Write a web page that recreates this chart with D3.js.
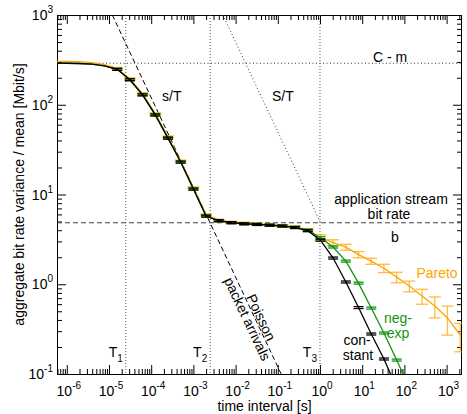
<!DOCTYPE html>
<html>
<head>
<meta charset="utf-8">
<script src="https://cdn.jsdelivr.net/npm/d3@7"></script>
<style>
body { margin: 0; background: #fff; }
svg text { font-family: "Liberation Sans", Arial, sans-serif; }
</style>
</head>
<body>
<div id="chart"></div>
<script>
// time interval T [s] of each measured point (doubling steps)
var intervals = [4.88e-7, 9.77e-7, 1.95e-6, 3.91e-6, 7.81e-6, 1.5625e-5, 3.125e-5, 6.25e-5, 1.25e-4, 2.5e-4, 5e-4, 1e-3, 2e-3,
  4e-3, 8e-3, 0.016, 0.032, 0.064, 0.128, 0.256, 0.512, 1.024, 2.048, 4.096, 8.192, 16.384, 32.768, 65.536,
  131.072, 262.144, 524.288, 1048.576, 2097.152];
var firstMarked = 5; // error bars are drawn from T = 1.56e-5 s on

// aggregate bit rate variance / mean [Mbit/s]
var constant = [291, 290, 288, 283, 271, 248, 190, 129, 77, 42.5, 23, 11.5, 5.75, 5.1, 4.85, 4.72, 4.64, 4.55, 4.45, 4.28,
  3.95, 3.1, 1.96, 1.06, 0.55, 0.279, 0.147, 0.07];
var negExp = [291, 290, 288, 283, 271, 248, 190, 129, 77, 42.5, 23, 11.5, 5.75, 5.1, 4.85, 4.72, 4.64, 4.55, 4.47, 4.32,
  4.02, 3.3, 2.6, 1.81, 1.03, 0.543, 0.286, 0.143, 0.07];
var pareto = [305, 304, 302, 295, 279, 254, 195, 133, 79.5, 43.8, 23.6, 11.9, 5.95, 5.2, 4.92, 4.8, 4.7, 4.6, 4.5, 4.35,
  4.05, 3.3, 2.91, 2.59, 2.14, 1.81, 1.51, 1.2, 0.955, 0.739, 0.572, 0.421, 0.272];
var paretoErr = [8, 8, 8, 8, 7, 6, 5, 3.3, 2, 1.1, 0.6, 0.3, 0.15, 0.13, 0.12, 0.12, 0.12, 0.12, 0.12, 0.12,
  0.12, 0.25, 0.22, 0.2, 0.17, 0.14, 0.16, 0.16, 0.13, 0.14, 0.15, 0.15, 0.095];
var relErr = 0.025; // constant and neg-exp bars are tiny

// reference quantities
var s = 0.012;       // packet size [Mbit]
var S = 5.0;         // [Mbit]
var cMinusM = 290;   // C - m
var b = 4.84;        // application stream bit rate
var tMarks = [{name: "1", t: 2.5e-5}, {name: "2", t: 2.5e-3}, {name: "3", t: 1.0}];

var width = 467, height = 414;
var pLeft = 57, pRight = 462, pTop = 15, pBottom = 374;

var x = d3.scaleLog().domain([5.86e-7, 2317]).range([pLeft, pRight]);
var y = d3.scaleLog().domain([0.1, 1000]).range([pBottom, pTop]);

var svg = d3.select("#chart").append("svg").attr("width", width).attr("height", height);

svg.append("clipPath").attr("id", "clip").append("rect")
  .attr("x", pLeft).attr("y", pTop).attr("width", pRight - pLeft).attr("height", pBottom - pTop);

function logTicks(dom) {
  var maj = [], min = [];
  for (var e = Math.floor(Math.log10(dom[0])); e <= Math.ceil(Math.log10(dom[1])); e++) {
    for (var m = 1; m < 10; m++) {
      var v = m * Math.pow(10, e);
      if (v < dom[0] * 0.999 || v > dom[1] * 1.001) continue;
      (m === 1 ? maj : min).push(v);
    }
  }
  return {maj: maj, min: min};
}
var xt = logTicks(x.domain()), yt = logTicks(y.domain());

function addAxis(axis, tr, vals, size) {
  var g = svg.append("g").attr("transform", tr)
    .call(axis.tickValues(vals).tickSizeInner(-size).tickSizeOuter(0).tickFormat(""));
  g.select(".domain").remove();
  g.selectAll("line").attr("stroke", "#000");
}
[[xt.maj, 9], [xt.min, 5]].forEach(function(p) {
  addAxis(d3.axisBottom(x), "translate(0," + pBottom + ")", p[0], p[1]);
  addAxis(d3.axisTop(x), "translate(0," + pTop + ")", p[0], p[1]);
});
[[yt.maj, 9], [yt.min, 5]].forEach(function(p) {
  addAxis(d3.axisLeft(y), "translate(" + pLeft + ",0)", p[0], p[1]);
  addAxis(d3.axisRight(y), "translate(" + pRight + ",0)", p[0], p[1]);
});
svg.append("rect").attr("x", pLeft + 0.5).attr("y", pTop + 0.5)
  .attr("width", pRight - pLeft - 1).attr("height", pBottom - pTop)
  .attr("fill", "none").attr("stroke", "#000").attr("stroke-width", 1);

// tick labels 10^n
xt.maj.forEach(function(v) {
  var t = svg.append("text").attr("x", x(v) + 2).attr("y", pBottom + 22)
    .attr("text-anchor", "middle").attr("font-size", 14);
  t.append("tspan").text("10");
  t.append("tspan").attr("dy", -7).attr("font-size", 10).text(Math.round(Math.log10(v)));
});
yt.maj.forEach(function(v) {
  var t = svg.append("text").attr("x", pLeft - 4).attr("y", y(v) + 5)
    .attr("text-anchor", "end").attr("font-size", 14);
  t.append("tspan").text("10");
  t.append("tspan").attr("dy", -7).attr("font-size", 10).text(Math.round(Math.log10(v)));
});

svg.append("text").attr("x", (pLeft + pRight) / 2 + 5).attr("y", 411)
  .attr("text-anchor", "middle").attr("font-size", 14).text("time interval [s]");
svg.append("text").attr("transform", "translate(24," + ((pTop + pBottom) / 2) + ") rotate(-90)")
  .attr("text-anchor", "middle").attr("font-size", 14)
  .text("aggregate bit rate variance / mean [Mbit/s]");

// reference lines
var plot = svg.append("g").attr("clip-path", "url(#clip)");
var xd = x.domain(), yd = y.domain();

plot.append("line").attr("x1", pLeft).attr("x2", pRight).attr("y1", y(cMinusM)).attr("y2", y(cMinusM))
  .attr("stroke", "#333").attr("stroke-dasharray", "1,2.5");
plot.append("line").attr("x1", pLeft).attr("x2", pRight).attr("y1", y(b)).attr("y2", y(b))
  .attr("stroke", "#444").attr("stroke-dasharray", "5,3");
tMarks.forEach(function(d) {
  plot.append("line").attr("x1", x(d.t)).attr("x2", x(d.t)).attr("y1", pTop).attr("y2", pBottom)
    .attr("stroke", "#555").attr("stroke-dasharray", "1,2");
});
// s/T (Poisson packet arrivals)
plot.append("line")
  .attr("x1", x(s / yd[1])).attr("y1", y(yd[1]))
  .attr("x2", x(s / yd[0])).attr("y2", y(yd[0]))
  .attr("stroke", "#000").attr("stroke-dasharray", "5,3");
// S/T, down to the stream bit rate
plot.append("line")
  .attr("x1", x(S / yd[1])).attr("y1", y(yd[1]))
  .attr("x2", x(S / b)).attr("y2", y(b))
  .attr("stroke", "#333").attr("stroke-dasharray", "1,2.5");

// curves with error bars
var series = [
  {vals: pareto, err: paretoErr, color: "#ffa500", barOpacity: 0.75, cap: 6},
  {vals: negExp, color: "#129312", barOpacity: 1, cap: 5},
  {vals: constant, color: "#000", barOpacity: 1, cap: 5}
];
var line = d3.line().x(function(d) { return x(d.t); }).y(function(d) { return y(d.v); });

series.forEach(function(ser) {
  var pts = ser.vals.map(function(v, i) {
    return {i: i, t: intervals[i], v: v, e: ser.err ? ser.err[i] : v * relErr};
  });
  plot.append("path").datum(pts).attr("d", line)
    .attr("fill", "none").attr("stroke", ser.color).attr("stroke-width", 1.3);
  var bars = plot.selectAll(null)
    .data(pts.filter(function(d) { return d.i >= firstMarked && d.v > yd[0]; }))
    .enter().append("g")
    .attr("stroke", ser.color).attr("stroke-opacity", ser.barOpacity).attr("stroke-width", 1.3);
  bars.append("line")
    .attr("x1", function(d) { return x(d.t); }).attr("x2", function(d) { return x(d.t); })
    .attr("y1", function(d) { return y(d.v + d.e); }).attr("y2", function(d) { return y(d.v - d.e); });
  [1, -1].forEach(function(sg) {
    bars.append("line")
      .attr("x1", function(d) { return x(d.t) - ser.cap; }).attr("x2", function(d) { return x(d.t) + ser.cap; })
      .attr("y1", function(d) { return y(d.v + sg * d.e); }).attr("y2", function(d) { return y(d.v + sg * d.e); });
  });
});

// annotations
function label(txt, px, py, anchor, color) {
  svg.append("text").attr("x", px).attr("y", py).attr("text-anchor", anchor || "start")
    .attr("font-size", 14).attr("fill", color || "#000").text(txt);
}
label("C - m", 373, 62);
label("s/T", 162, 101);
label("S/T", 272, 101);
label("application stream", 391, 204, "middle");
label("bit rate", 389, 219, "middle");
label("b", 395, 242, "middle");
label("Pareto", 437, 278, "middle", "#ffa500");
label("neg-", 398, 323, "middle", "#129312");
label("exp", 398, 338, "middle", "#129312");
label("con-", 357, 345, "middle");
label("stant", 358, 360, "middle");

tMarks.forEach(function(d) {
  var t = svg.append("text").attr("x", x(d.t) - 3).attr("y", 357)
    .attr("text-anchor", "end").attr("font-size", 14);
  t.append("tspan").text("T");
  t.append("tspan").attr("dy", 5).attr("font-size", 10).text(d.name);
});

// rotated label along the s/T line
var angle = Math.atan2(y(s / 1) - y(s / 0.1), x(1) - x(0.1)) * 180 / Math.PI;
[["Poisson", 0.030, -1], ["packet arrivals", 0.027, 12]].forEach(function(p) {
  svg.append("text")
    .attr("transform", "translate(" + x(p[1]) + "," + y(s / p[1]) + ") rotate(" + angle + ")")
    .attr("y", p[2]).attr("text-anchor", "middle").attr("font-size", 14).text(p[0]);
});
</script>
</body>
</html>
